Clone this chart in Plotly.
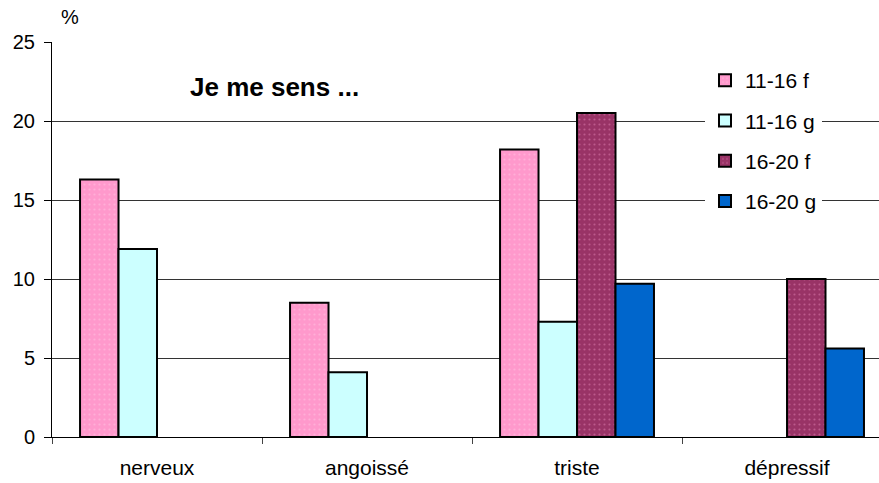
import plotly.graph_objects as go

categories = ["nerveux", "angoissé", "triste", "dépressif"]
series_names = ["11-16 f", "11-16 g", "16-20 f", "16-20 g"]
v_11_16_f = [16.3, 8.5, 18.2, None]
v_11_16_g = [11.9, 4.1, 7.3, None]
v_16_20_f = [None, None, 20.5, 10.0]
v_16_20_g = [None, None, 9.7, 5.6]
y_ticks = [0, 5, 10, 15, 20, 25]

values = [v_11_16_f, v_11_16_g, v_16_20_f, v_16_20_g]
colors = ["#ff99cc", "#ccffff", "#993366", "#0066cc"]
patterns = [dict(shape=".", fgcolor="#ffc6e2", size=5, solidity=0.15),
            dict(shape=""),
            dict(shape=".", fgcolor="#e07fb0", size=5, solidity=0.15),
            dict(shape="")]

fig = go.Figure()
for name, vals, c, p in zip(series_names, values, colors, patterns):
    fig.add_trace(go.Bar(
        x=categories, y=vals, name=name,
        marker=dict(color=c, line=dict(color="black", width=2), pattern=p),
        legendgroup=name,
    ))

pw, ph = 879 - 52, 483 - 42 - 46

fig.update_layout(
    width=879, height=483,
    margin=dict(l=52, r=0, t=42, b=46),
    paper_bgcolor="white", plot_bgcolor="white",
    barmode="group", bargap=0.267, bargroupgap=0,
    font=dict(family="Liberation Sans, Arial, sans-serif", size=20, color="black"),
    showlegend=True,
    legend=dict(x=(705 - 52) / pw, y=(437 - 60) / ph, xanchor="left", yanchor="top",
                bgcolor="white", font=dict(size=21),
                tracegroupgap=10, itemwidth=30, entrywidth=140),
    xaxis=dict(range=[-0.5, 3.438], showline=True, linecolor="black", linewidth=1,
               ticks="outside", tickson="boundaries", ticklen=6, tickcolor="#444",
               showgrid=False, tickfont=dict(size=21), ticklabelstandoff=12),
    yaxis=dict(range=[0, 25], tickvals=y_ticks, showline=True, linecolor="black",
               linewidth=1, ticks="outside", ticklen=7, tickcolor="black",
               showgrid=True, gridcolor="#333", gridwidth=1,
               tickfont=dict(size=20), zeroline=False, ticklabelstandoff=5),
    annotations=[
        dict(text="<b>Je me sens ...</b>", x=(188 - 52) / pw, y=(437 - 87) / ph,
             xref="paper", yref="paper", xanchor="left", yanchor="middle",
             showarrow=False, font=dict(size=26)),
        dict(text="%", x=(70 - 52) / pw, y=(437 - 17) / ph, xref="paper", yref="paper",
             xanchor="center", yanchor="middle", showarrow=False, font=dict(size=20)),
    ],
)

fig.write_html("out.html")
